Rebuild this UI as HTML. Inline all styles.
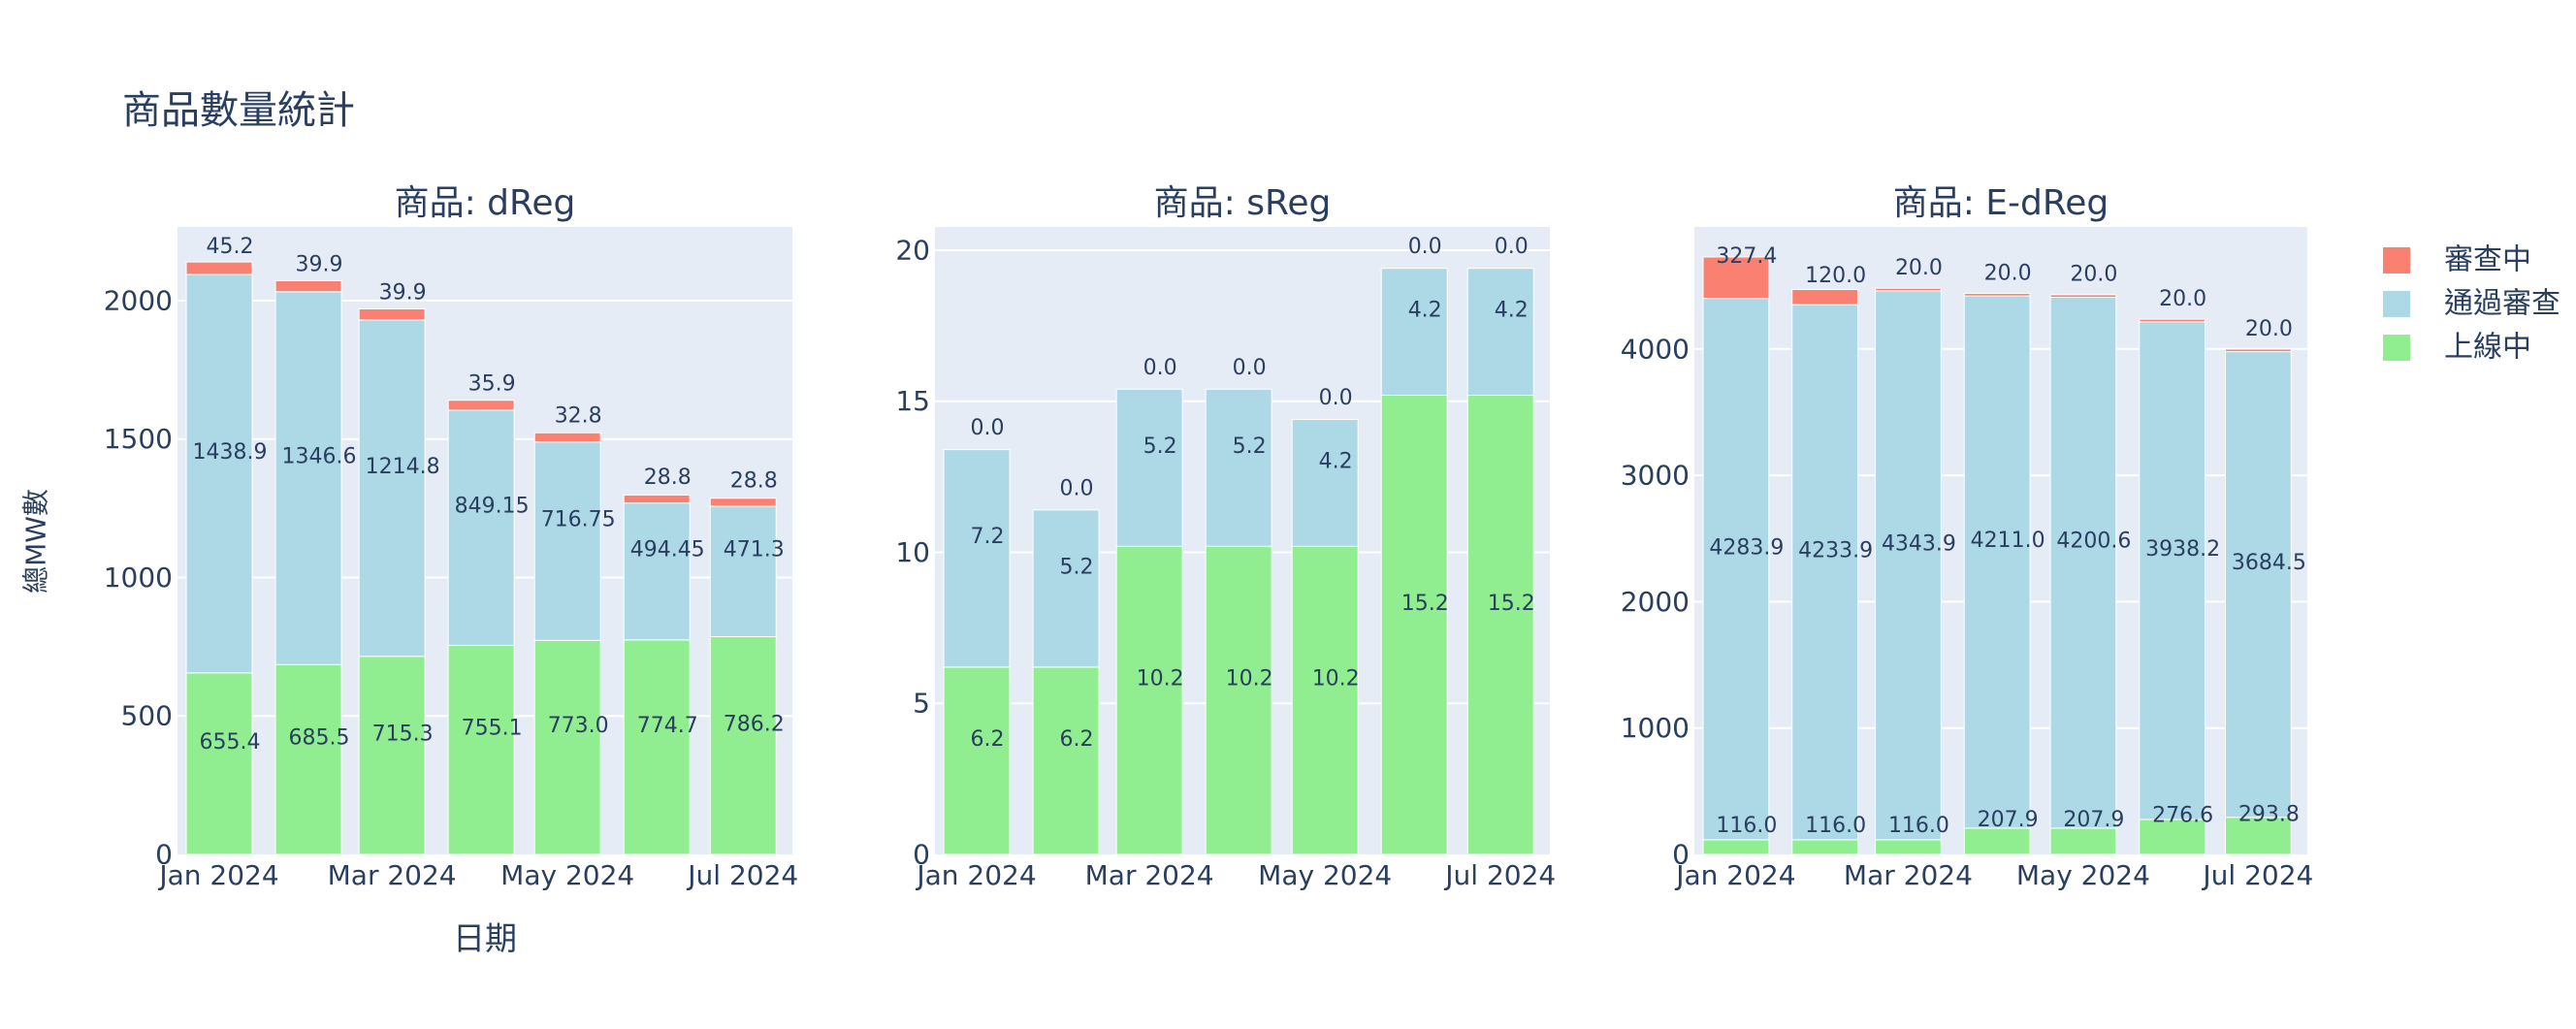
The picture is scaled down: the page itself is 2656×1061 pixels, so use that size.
<!DOCTYPE html>
<html><head><meta charset="utf-8">
<style>
html,body{margin:0;padding:0;background:#fff;}
svg text{font-family:"DejaVu Sans","Noto Sans CJK TC",sans-serif;fill:#2a3f5f;}
</style></head>
<body>
<svg id="s" xmlns="http://www.w3.org/2000/svg" width="2656" height="1056" viewBox="0 0 2656 1056">
<rect width="2656" height="1056" fill="#fff"/>
<text x="126" y="127" font-size="40">商品數量統計</text>
<text x="37" y="558" font-size="28" text-anchor="middle" dominant-baseline="central" transform="rotate(-90 37 558)">總MW數</text>
<text x="500" y="979" font-size="33" text-anchor="middle">日期</text>
<rect x="2457" y="255" width="28" height="27" fill="#FA8072"/>
<rect x="2457" y="300" width="28" height="27" fill="#ADD8E6"/>
<rect x="2457" y="345" width="28" height="27" fill="#90EE90"/>
<text x="2520" y="268" font-size="30" dominant-baseline="central">審查中</text>
<text x="2520" y="313" font-size="30" dominant-baseline="central">通過審查</text>
<text x="2520" y="358" font-size="30" dominant-baseline="central">上線中</text>
</svg>
<script>
var NS="http://www.w3.org/2000/svg",S=document.getElementById('s');
function el(t,a,txt){var e=document.createElementNS(NS,t);for(var k in a)e.setAttribute(k,a[k]);if(txt!==undefined)e.textContent=txt;S.appendChild(e);return e;}
var T=234,B=881;
var panels=[
{L:183,R:817,max:2266,ticks:[0,500,1000,1500,2000],title:"商品: dReg",
 g:[655.4,685.5,715.3,755.1,773.0,774.7,786.2],b:[1438.9,1346.6,1214.8,849.15,716.75,494.45,471.3],r:[45.2,39.9,39.9,35.9,32.8,28.8,28.8],
 gl:["655.4","685.5","715.3","755.1","773.0","774.7","786.2"],bl:["1438.9","1346.6","1214.8","849.15","716.75","494.45","471.3"],rl:["45.2","39.9","39.9","35.9","32.8","28.8","28.8"]},
{L:964,R:1598,max:20.77,ticks:[0,5,10,15,20],title:"商品: sReg",
 g:[6.2,6.2,10.2,10.2,10.2,15.2,15.2],b:[7.2,5.2,5.2,5.2,4.2,4.2,4.2],r:[0,0,0,0,0,0,0],
 gl:["6.2","6.2","10.2","10.2","10.2","15.2","15.2"],bl:["7.2","5.2","5.2","5.2","4.2","4.2","4.2"],rl:["0.0","0.0","0.0","0.0","0.0","0.0","0.0"]},
{L:1747,R:2379,max:4965,ticks:[0,1000,2000,3000,4000],title:"商品: E-dReg",
 g:[116,116,116,207.9,207.9,276.6,293.8],b:[4283.9,4233.9,4343.9,4211.0,4200.6,3938.2,3684.5],r:[327.4,120,20,20,20,20,20],
 gl:["116.0","116.0","116.0","207.9","207.9","276.6","293.8"],bl:["4283.9","4233.9","4343.9","4211.0","4200.6","3938.2","3684.5"],rl:["327.4","120.0","20.0","20.0","20.0","20.0","20.0"]}
];
var days=[0,31,60,91,121,152,182];
panels.forEach(function(p){
  var W=p.R-p.L,s=W/213.6;
  function X(d){return p.L+(d+14.5)*s;}
  function Y(v){return B-v*(B-T)/p.max;}
  el('rect',{x:p.L,y:T,width:W,height:B-T,fill:'#E5ECF6'});
  p.ticks.forEach(function(t){
    var y=Y(t);
    if(t>0)el('line',{x1:p.L,x2:p.R,y1:y,y2:y,stroke:'#fff','stroke-width':2});
    el('text',{x:p.L-5,y:y,'font-size':28,'text-anchor':'end','dominant-baseline':'central'},String(t));
  });
  var bw=22.9*s;
  var labels=[];
  for(var i=0;i<7;i++){
    var cx=X(days[i]);
    var segs=[[0,p.g[i],'#90EE90',p.gl[i]],[p.g[i],p.g[i]+p.b[i],'#ADD8E6',p.bl[i]],[p.g[i]+p.b[i],p.g[i]+p.b[i]+p.r[i],'#FA8072',p.rl[i]]];
    segs.forEach(function(sg){
      var y0=Y(sg[0]),y1=Y(sg[1]);
      if(y0-y1>0)el('rect',{x:cx-bw/2,y:y1,width:bw,height:y0-y1,fill:sg[2],stroke:'#fff','stroke-width':1});
      labels.push([cx+11,(y0+y1)/2-22,sg[3]]);
    });
  }
  labels.forEach(function(l){el('text',{x:l[0],y:l[1],'font-size':22,'text-anchor':'middle','dominant-baseline':'central'},l[2]);});
  [["Jan 2024",0],["Mar 2024",60],["May 2024",121],["Jul 2024",182]].forEach(function(t){
    el('text',{x:X(t[1]),y:912,'font-size':28,'text-anchor':'middle'},t[0]);
  });
  el('text',{x:(p.L+p.R)/2,y:221,'font-size':36,'text-anchor':'middle'},p.title);
});
</script>
</body></html>
